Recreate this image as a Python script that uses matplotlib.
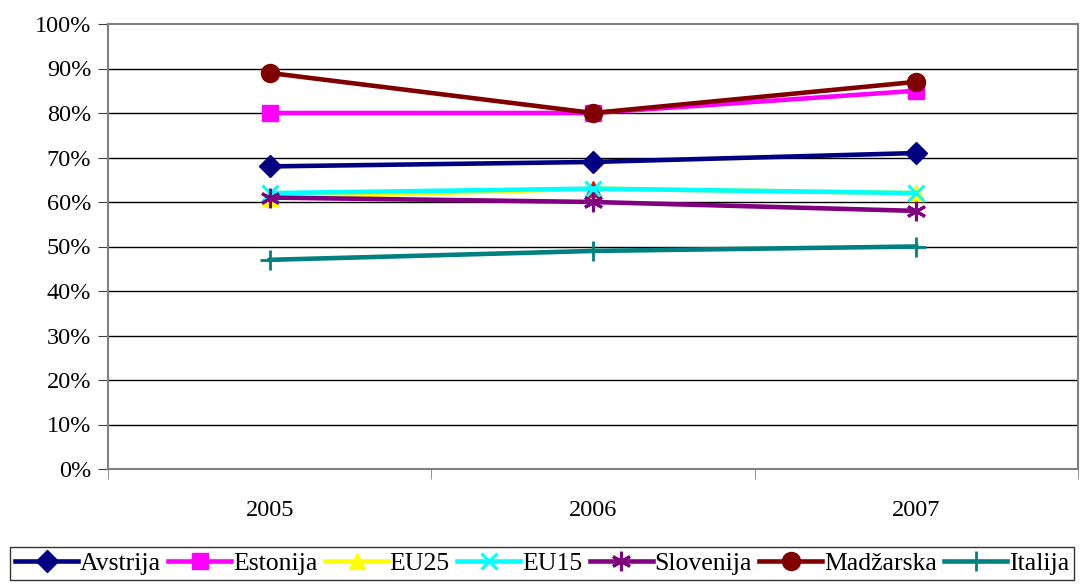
import matplotlib.pyplot as plt
import numpy as np

plt.rcParams['font.family'] = ['Liberation Serif', 'DejaVu Serif']

years = ['2005', '2006', '2007']
avstrija = [68, 69, 71]
estonija = [80, 80, 85]
eu25 = [61, 63, 62]
eu15 = [62, 63, 62]
slovenija = [61, 60, 58]
madzarska = [89, 80, 87]
italija = [47, 49, 50]

W, H = 1092, 585
fig = plt.figure(figsize=(W / 100, H / 100), dpi=100)
ax = fig.add_axes([108 / W, 1 - 469 / H, (1078 - 108) / W, (469 - 24) / H])

x = np.arange(len(years))
series = [
    ('Avstrija', avstrija, '#000080', 'D', 11, {}),
    ('Estonija', estonija, '#ff00ff', 's', 12, {}),
    ('EU25', eu25, '#ffff00', '^', 11, {}),
    ('EU15', eu15, '#00ffff', 'x', 12, {'mew': 2.2}),
    ('Slovenija', slovenija, '#800080', (6, 2, 0), 14, {'mew': 2.2}),
    ('Madžarska', madzarska, '#800000', 'o', 13, {}),
    ('Italija', italija, '#008080', '+', 15, {'mew': 2}),
]
# draw order roughly like the original (later ones on top)
order = ['Italija', 'EU25', 'EU15', 'Slovenija', 'Avstrija', 'Estonija', 'Madžarska']
handles = {}
for name, vals, col, mk, ms, kw in series:
    z = 3 + order.index(name)
    h, = ax.plot(x, vals, color=col, lw=3.3, marker=mk, ms=ms, mfc=col, mec=col,
                 label=name, zorder=z, **kw)
    handles[name] = h
# 2006 EU25 point is shown in red in the original
ax.plot([1], [eu25[1]], marker='^', ms=11, color='#ff0000', ls='none', zorder=4)

ax.set_xlim(-0.5, 2.5)
ax.set_ylim(0, 100)
ax.set_yticks(np.arange(0, 101, 10))
ax.set_yticklabels([f'{v}%' for v in range(0, 101, 10)], fontsize=17.5)
ax.set_xticks(x)
ax.set_xticklabels(years, fontsize=17.5)
ax.set_xticks([-0.5, 0.5, 1.5, 2.5], minor=True)
ax.tick_params(axis='x', which='major', length=0, pad=22)
ax.tick_params(axis='x', which='minor', length=7, direction='out', color='#808080')
ax.tick_params(axis='y', length=7, direction='out', color='#404040', pad=5)
for y in range(10, 100, 10):
    ax.axhline(y, color='black', lw=1, zorder=1)
for s in ax.spines.values():
    s.set_color('#808080')
    s.set_linewidth(1.5)

leg = fig.legend([handles[n] for n, *_ in series], [n for n, *_ in series],
                 loc='upper left', bbox_to_anchor=(10 / W, 1 - 547 / H),
                 ncol=7, fontsize=18.5, frameon=True, fancybox=False,
                 edgecolor='black', handlelength=2.45, handletextpad=0.06,
                 columnspacing=0.3, borderpad=0.2, borderaxespad=0)
leg.get_frame().set_linewidth(1)

plt.savefig('out.png', dpi=100)
